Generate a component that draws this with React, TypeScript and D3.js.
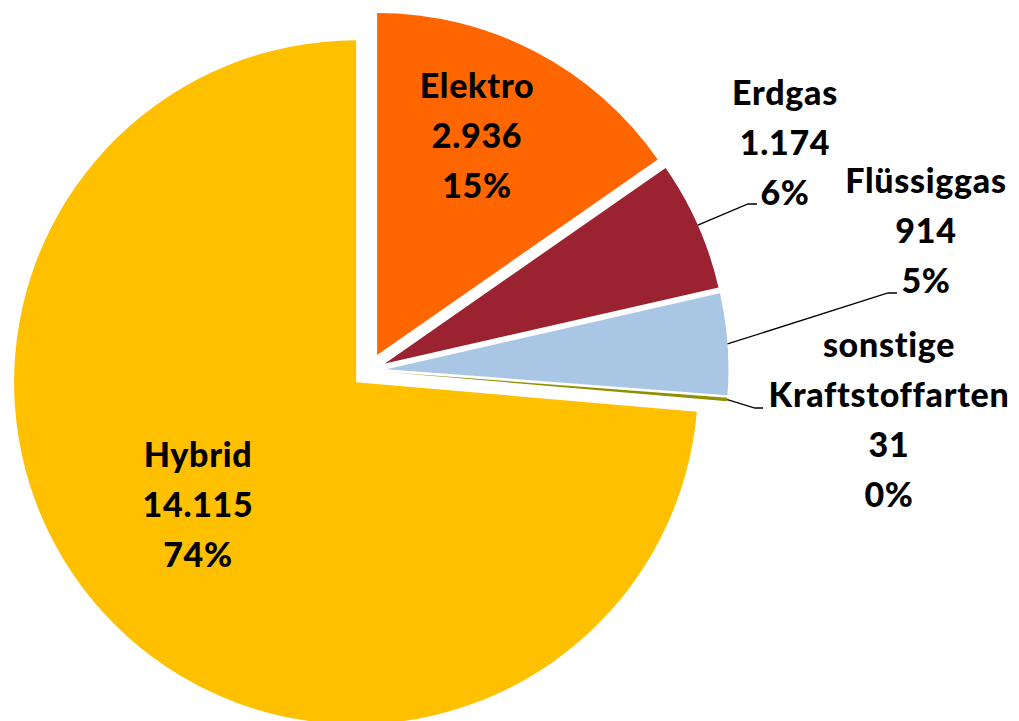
import React from "react";
import * as d3 from "d3";

const categories = ["Elektro", "Erdgas", "Flüssiggas", "sonstige Kraftstoffarten", "Hybrid"];
const values = [2936, 1174, 914, 31, 14115];
const colors = ["#FF6600", "#9B2230", "#A9C6E5", "#8F8F00", "#FFC000"];
// label line breaks for the category names
const nameLines = [["Elektro"], ["Erdgas"], ["Flüssiggas"], ["sonstige", "Kraftstoffarten"], ["Hybrid"]];

// label layout (center x, first baseline y)
const labelPos = [
  [477, 98],
  [785, 105],
  [926, 193],
  [889, 357],
  [198, 467],
];
// leader line elbows (null = label inside slice)
const leaderElbow: ([number, number, number] | null)[] = [
  null,
  [748, 204, 757],
  [888, 293, 897],
  [755, 408, 763],
  null,
];

const W = 1019;
const H = 721;
const cx = 369;
const cy = 370.5;
const R = 342;
const explode = 17.5;
const lineH = 50;

const locale = d3.formatLocale({ decimal: ",", thousands: ".", grouping: [3], currency: ["", "€"] });
const fmt = locale.format(",d");

export default function App() {
  const total = d3.sum(values);
  const pie = d3.pie<number>().sort(null).value((d) => d)(values);
  const arc = d3.arc<d3.PieArcDatum<number>>().innerRadius(0).outerRadius(R);

  return (
    <svg width={W} height={H} style={{ position: "absolute", left: 0, top: 0, background: "#fff" }}>
      {pie.map((p, i) => {
        const mid = (p.startAngle + p.endAngle) / 2;
        const dx = Math.sin(mid) * explode;
        const dy = -Math.cos(mid) * explode;
        return (
          <path
            key={"s" + i}
            d={arc(p) || ""}
            transform={`translate(${cx + dx},${cy + dy})`}
            fill={colors[i]}
          />
        );
      })}
      {pie.map((p, i) => {
        const e = leaderElbow[i];
        if (!e) return null;
        const mid = (p.startAngle + p.endAngle) / 2;
        const rr = R + explode;
        const x0 = cx + Math.sin(mid) * rr;
        const y0 = cy - Math.cos(mid) * rr;
        return (
          <polyline
            key={"l" + i}
            points={`${x0},${y0} ${e[0]},${e[1]} ${e[2]},${e[1]}`}
            fill="none"
            stroke="#000"
            strokeWidth={1.3}
          />
        );
      })}
      {values.map((v, i) => {
        const lines = [...nameLines[i], fmt(v), Math.round((v / total) * 100) + "%"];
        const [x, y] = labelPos[i];
        return (
          <text
            key={"t" + i}
            x={x}
            y={y}
            textAnchor="middle"
            fontFamily="Lato, 'Open Sans', sans-serif"
            fontWeight={900}
            fontSize={34}
            letterSpacing={0.7}
            fill="#000"
            style={{ fontVariantLigatures: "none" }}
          >
            {lines.map((t, j) => (
              <tspan key={j} x={x} y={y + j * lineH}>
                {t}
              </tspan>
            ))}
          </text>
        );
      })}
    </svg>
  );
}
